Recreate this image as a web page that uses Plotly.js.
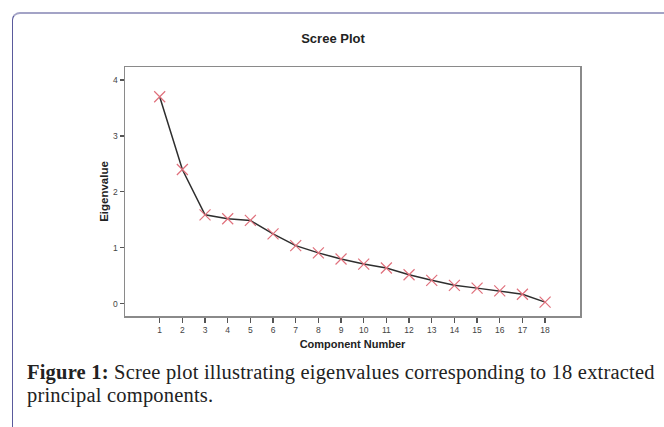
<!DOCTYPE html>
<html>
<head>
<meta charset="utf-8">
<script src="https://cdn.plot.ly/plotly-3.0.1.min.js"></script>
<style>
  html, body { margin: 0; padding: 0; background: #ffffff; }
  #wrap { position: relative; width: 664px; height: 427px; overflow: hidden; background: #fff; }
  #frame { position: absolute; left: 12px; top: 12px; width: 700px; height: 500px;
           border-top: 2px solid #a3a3c6; border-left: 1.5px solid #5a5a9c;
           border-top-left-radius: 8px; box-sizing: border-box; }
  #chart { position: absolute; left: 0; top: 0; width: 664px; height: 427px; }
  #caption { position: absolute; left: 27px; top: 361px; width: 640px;
             font-family: "Liberation Serif", "Times New Roman", serif; font-size: 20.5px;
             line-height: 22.5px; color: #222; white-space: nowrap; letter-spacing: 0.2px; }
</style>
</head>
<body>
<div id="wrap">
  <div id="frame"></div>
  <div id="chart"></div>
  <div id="caption"><b>Figure 1:</b> Scree plot illustrating eigenvalues corresponding to 18 extracted<br>principal components.</div>
</div>
<script>
const components = [1,2,3,4,5,6,7,8,9,10,11,12,13,14,15,16,17,18];
const eigenvalues = [3.70,2.40,1.59,1.52,1.49,1.25,1.04,0.91,0.80,0.71,0.64,0.52,0.42,0.33,0.28,0.23,0.17,0.03];
const yTicks = [0,1,2,3,4];

const trace = {
  x: components,
  y: eigenvalues,
  type: 'scatter',
  mode: 'lines+markers',
  line: { color: '#2e2e2e', width: 1.5 },
  marker: { symbol: 'x-thin-open', size: 11, color: '#e0707c', line: { color: '#e0707c', width: 1.2 } },
  hoverinfo: 'skip'
};

const layout = {
  width: 664, height: 427,
  margin: { l: 125, r: 84, t: 67, b: 111, pad: 0 },
  paper_bgcolor: 'rgba(0,0,0,0)',
  plot_bgcolor: '#ffffff',
  showlegend: false,
  font: { family: 'Liberation Sans, Arial, sans-serif', color: '#333' },
  title: {
    text: '<b>Scree Plot</b>',
    font: { size: 13, color: '#222', family: 'Liberation Sans, Arial, sans-serif' },
    xref: 'container', yref: 'container',
    x: 333/664, xanchor: 'center',
    y: 1 - 38/427, yanchor: 'middle'
  },
  xaxis: {
    range: [-0.53, 19.54],
    tickmode: 'array', tickvals: components, ticktext: components.map(String),
    ticks: 'outside', ticklen: 5, tickwidth: 1.2, tickcolor: '#555',
    tickfont: { size: 8.5, color: '#444' },
    showgrid: false, zeroline: false,
    showline: true, linecolor: '#8a8a8a', linewidth: 1.5, mirror: true,
    title: { text: '<b>Component Number</b>', font: { size: 11, color: '#222' }, standoff: 6 }
  },
  yaxis: {
    range: [-0.218, 4.232],
    tickmode: 'array', tickvals: yTicks, ticktext: yTicks.map(String),
    ticks: 'outside', ticklen: 4, tickwidth: 1.2, tickcolor: '#555',
    tickfont: { size: 8.5, color: '#444' },
    showgrid: false, zeroline: false,
    showline: true, linecolor: '#8a8a8a', linewidth: 1.5, mirror: true,
    title: { text: '<b>Eigenvalue</b>', font: { size: 11.5, color: '#222' }, standoff: 2 }
  }
};

Plotly.newPlot('chart', [trace], layout, { displayModeBar: false, staticPlot: true });
</script>
</body>
</html>
